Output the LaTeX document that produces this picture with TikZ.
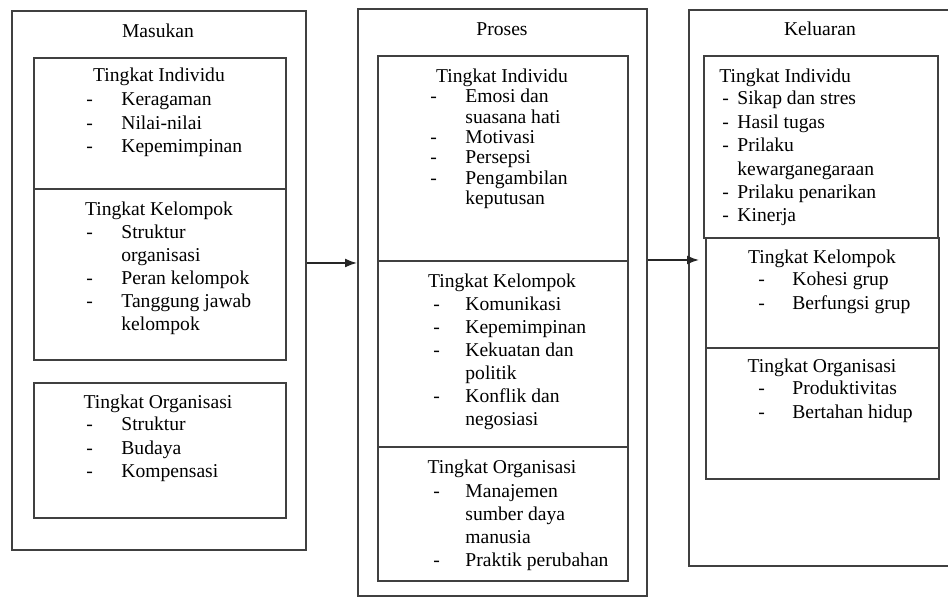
\documentclass[tikz,border=0pt]{standalone}
\usepackage{fontspec}
\setmainfont{Liberation Serif}
\usepackage{array}
\usetikzlibrary{arrows.meta}

\tikzset{
  panel/.style={rectangle,draw=black!75,line width=0.85pt,inner sep=0pt,anchor=north west},
  heading/.style={inner sep=0pt,anchor=base},
  itemlist/.style={inner sep=0pt,anchor=base west},
  flow/.style={-{Latex[length=6pt,width=4.5pt]},line width=0.8pt,draw=black!85}
}
% dash column width, row stretch, rows
\newcommand{\itemsof}[3]{\def\arraystretch{#2}\begin{tabular}[t]{@{}p{#1}@{}l@{}}#3\end{tabular}}

\begin{document}
\begin{tikzpicture}[x=0.5pt,y=-0.5pt,font=\fontsize{9.8}{10}\selectfont]
\useasboundingbox (0,0) rectangle (948,597);
\clip (0,0) rectangle (948,597);
%Outer Boxes
\node at (11,10) [panel,minimum width=147pt,minimum height=269.5pt] (Masukan) {};
\node at (357,8) [panel,minimum width=144.5pt,minimum height=293.5pt] (Proses) {};
\node at (688,9) [panel,minimum width=133.5pt,minimum height=278pt] (Keluaran) {};
%Inner Boxes
\node at (33,57) [panel,minimum width=126pt,minimum height=65.5pt] (MasukanInd) {};
\node at (33,188) [panel,minimum width=126pt,minimum height=85.5pt] (MasukanKel) {};
\node at (33,382) [panel,minimum width=126pt,minimum height=67.5pt] (MasukanOrg) {};
\node at (377,55) [panel,minimum width=125pt,minimum height=102.5pt] (ProsesInd) {};
\node at (377,260) [panel,minimum width=125pt,minimum height=93pt] (ProsesKel) {};
\node at (377,446) [panel,minimum width=125pt,minimum height=67pt] (ProsesOrg) {};
\node at (703,55) [panel,minimum width=117pt,minimum height=91pt] (KeluaranInd) {};
\node at (705,237) [panel,minimum width=116.5pt,minimum height=55pt] (KeluaranKel) {};
\node at (705,347) [panel,minimum width=116.5pt,minimum height=65.5pt] (KeluaranOrg) {};
%Headings
\node at (158,38) [heading] {Masukan};
\node at (159,82) [heading] {Tingkat Individu};
\node at (159,216) [heading] {Tingkat Kelompok};
\node at (158,409) [heading] {Tingkat Organisasi};
\node at (502,36) [heading] {Proses};
\node at (502,83) [heading] {Tingkat Individu};
\node at (502,288) [heading] {Tingkat Kelompok};
\node at (502,474) [heading] {Tingkat Organisasi};
\node at (820,36) [heading] {Keluaran};
\node at (719,83) [heading,anchor=base west] {Tingkat Individu};
\node at (822,264) [heading] {Tingkat Kelompok};
\node at (822,373) [heading] {Tingkat Organisasi};
%Item Lists
\node at (86,106) [itemlist] {\itemsof{17.5pt}{1.175}{-&Keragaman\\-&Nilai-nilai\\-&Kepemimpinan}};
\node at (86,239) [itemlist] {\itemsof{17.5pt}{1.15}{-&Struktur\\&organisasi\\-&Peran kelompok\\-&Tanggung jawab\\&kelompok}};
\node at (86,431) [itemlist] {\itemsof{17.5pt}{1.175}{-&Struktur\\-&Budaya\\-&Kompensasi}};
\node at (430,103) [itemlist] {\itemsof{17.5pt}{1.015}{-&Emosi dan\\&suasana hati\\-&Motivasi\\-&Persepsi\\-&Pengambilan\\&keputusan}};
\node at (433,311) [itemlist] {\itemsof{16pt}{1.15}{-&Komunikasi\\-&Kepemimpinan\\-&Kekuatan dan\\&politik\\-&Konflik dan\\&negosiasi}};
\node at (433,498) [itemlist] {\itemsof{16pt}{1.14}{-&Manajemen\\&sumber daya\\&manusia\\-&Praktik perubahan}};
\node at (722,105) [itemlist] {\itemsof{7.5pt}{1.17}{-&Sikap dan stres\\-&Hasil tugas\\-&Prilaku\\&kewarganegaraan\\-&Prilaku penarikan\\-&Kinerja}};
\node at (758,286) [itemlist] {\itemsof{17pt}{1.2}{-&Kohesi grup\\-&Berfungsi grup}};
\node at (758,395) [itemlist] {\itemsof{17pt}{1.2}{-&Produktivitas\\-&Bertahan hidup}};
%Connections
\coordinate (FlowA) at (0,263);
\coordinate (FlowB) at (0,260);
\draw [flow] (Masukan.east |- FlowA) -- (Proses.west |- FlowA);
\draw [flow,shorten >=3pt] (Proses.east |- FlowB) -- (KeluaranKel.west |- FlowB);
\end{tikzpicture}
\end{document}
